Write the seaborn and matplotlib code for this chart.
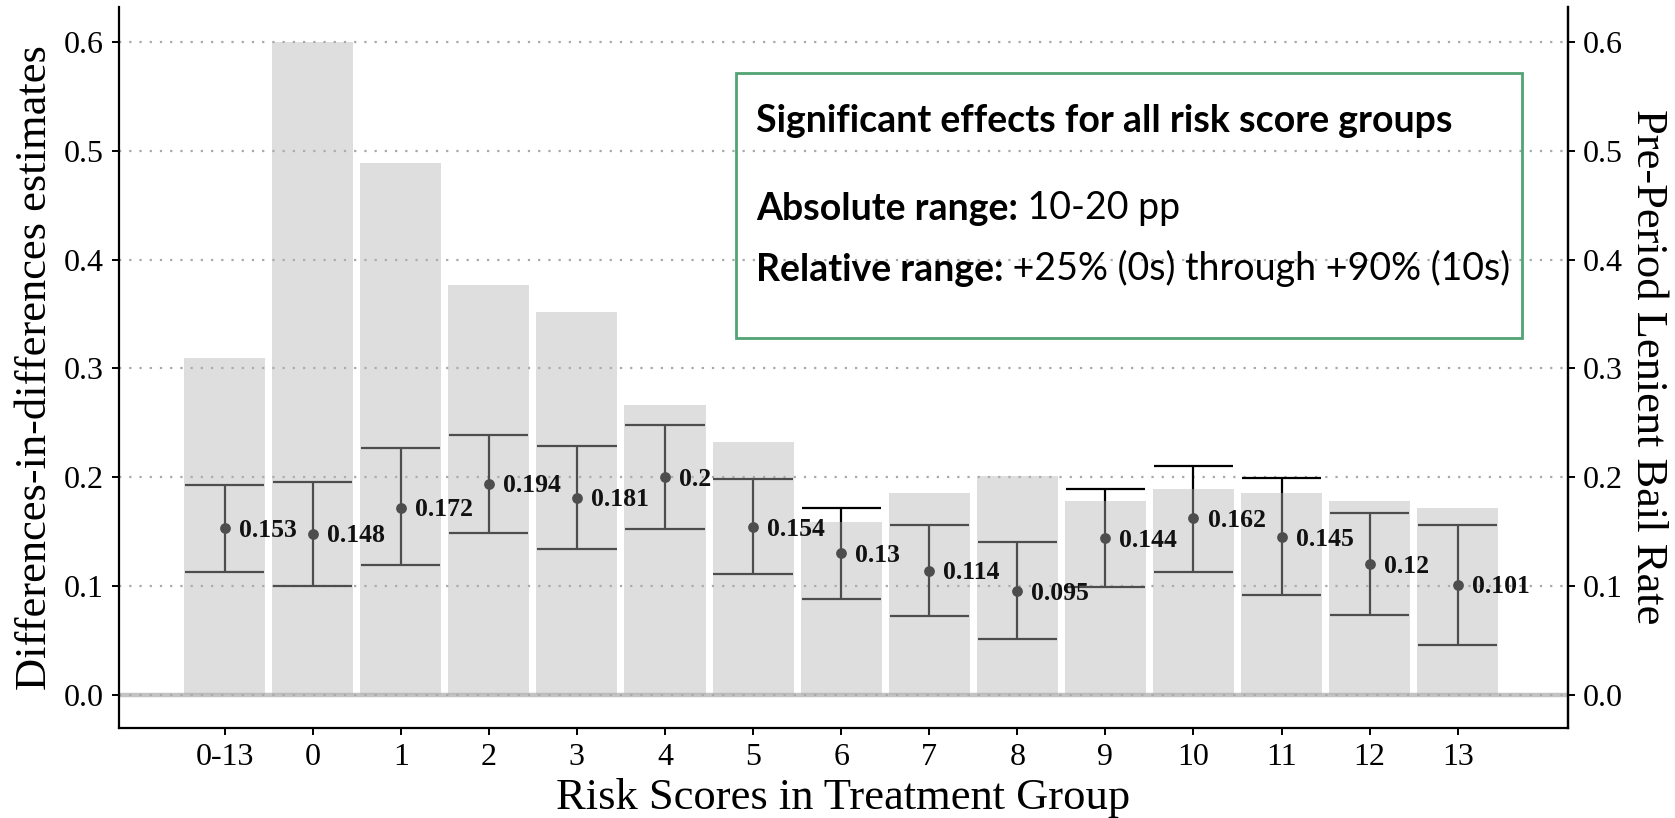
import numpy as np
import matplotlib
matplotlib.use("Agg")
import matplotlib.pyplot as plt
import seaborn as sns
from matplotlib.patches import Rectangle

groups = ["0-13", "0", "1", "2", "3", "4", "5", "6", "7", "8", "9", "10", "11", "12", "13"]
estimates = [0.153, 0.148, 0.172, 0.194, 0.181, 0.2, 0.154, 0.13, 0.114, 0.095, 0.144, 0.162, 0.145, 0.12, 0.101]
ci_low = [0.113, 0.100, 0.119, 0.149, 0.134, 0.152, 0.111, 0.088, 0.072, 0.051, 0.099, 0.113, 0.092, 0.073, 0.046]
ci_high = [0.193, 0.196, 0.227, 0.239, 0.229, 0.248, 0.198, 0.172, 0.156, 0.140, 0.189, 0.210, 0.199, 0.167, 0.156]
pre_rate = [0.310, 0.600, 0.489, 0.377, 0.352, 0.266, 0.232, 0.159, 0.185, 0.201, 0.178, 0.189, 0.185, 0.178, 0.172]
y_ticks = [0.0, 0.1, 0.2, 0.3, 0.4, 0.5, 0.6]

sns.set_theme(style="white")
SERIF = ["Liberation Serif", "DejaVu Serif"]
SANS = ["Lato", "DejaVu Sans"]
plt.rcParams["font.family"] = SERIF

fig = plt.figure(figsize=(16.75, 8.18), dpi=100)
ax = fig.add_axes([0.071, 0.1104, 0.865, 0.8816])

n = len(groups)
pos = np.arange(n)

# grid + zero line
ax.axhline(0, color="#C4C4C4", lw=3.2, zorder=0.3)
ax.set_axisbelow(True)
ax.yaxis.grid(True, linestyle=(0, (1, 3.6)), color="#A8A8A8", lw=1.6)
ax.xaxis.grid(False)

# error bars (under the translucent bars)
est = np.array(estimates)
lo = np.array(ci_low)
hi = np.array(ci_high)
ax.vlines(pos, lo, hi, color="black", lw=1.6, zorder=1)
ax.hlines(lo, pos - 0.45, pos + 0.45, color="black", lw=1.6, zorder=1)
ax.hlines(hi, pos - 0.45, pos + 0.45, color="black", lw=1.6, zorder=1)
ax.scatter(pos, est, s=60, color="black", zorder=1.1, linewidths=0)

# bars
sns.barplot(x=groups, y=pre_rate, color="#B3B3B3", alpha=0.43, width=0.92,
            saturation=1, linewidth=0, ax=ax, zorder=2)

# labels
for i, v in enumerate(estimates):
    ax.text(i + 0.16, v - 0.002, f"{v:g}", ha="left", va="center",
            fontsize=18.5, fontweight="bold", color="#111111", zorder=5, family=SERIF)

ax.set_xlim(-1.2, n - 1 + 1.25)
ax.set_ylim(-0.0305, 0.633)
ax.set_yticks(y_ticks)
ax.set_yticklabels([f"{t:.1f}" for t in y_ticks])
ax.set_xticks(pos)
ax.set_xticklabels(groups)

for s in ["left", "bottom", "right"]:
    ax.spines[s].set_visible(True)
    ax.spines[s].set_color("black")
    ax.spines[s].set_linewidth(1.6)
ax.spines["top"].set_visible(False)

ax.tick_params(axis="both", which="major", direction="out", length=5, width=1.4,
               color="black", labelsize=23, labelcolor="black", pad=6,
               left=True, bottom=True)
ax.set_xlabel("Risk Scores in Treatment Group", fontsize=32, labelpad=4, color="black")
ax.set_ylabel("Differences-in-differences estimates", fontsize=32, labelpad=6, color="black")

ax2 = ax.twinx()
ax2.set_ylim(ax.get_ylim())
ax2.set_yticks(y_ticks)
ax2.set_yticklabels([f"{t:.1f}" for t in y_ticks])
ax2.tick_params(axis="y", direction="out", length=5, width=1.4, color="black",
                labelsize=23, labelcolor="black", pad=6, right=True)
for s in ["left", "bottom", "top"]:
    ax2.spines[s].set_visible(False)
ax2.spines["right"].set_color("black")
ax2.spines["right"].set_linewidth(1.6)
ax2.grid(False)
ax2.set_ylabel("Pre-Period Lenient Bail Rate", fontsize=32, rotation=270,
               labelpad=32, color="black")

# annotation box
ax.add_patch(Rectangle((5.81, 0.3276), 8.92, 0.2444, fill=False,
                       edgecolor="#52A474", lw=2.0, zorder=6))
tx = 6.03
FS = 27
ax.text(tx, 0.528, "Significant effects for all risk score groups", ha="left", va="center",
        fontsize=FS, fontweight="bold", family=SANS, color="black", zorder=7)
t1 = ax.text(tx, 0.4465, "Absolute range:", ha="left", va="center",
             fontsize=FS, fontweight="bold", family=SANS, color="black", zorder=7)
ax.annotate(" 10-20 pp", xy=(1, 0), xycoords=t1, ha="left", va="bottom",
            fontsize=FS, family=SANS, color="black", zorder=7)
t2 = ax.text(tx, 0.391, "Relative range:", ha="left", va="center",
             fontsize=FS, fontweight="bold", family=SANS, color="black", zorder=7)
ax.annotate(" +25% (0s) through +90% (10s)", xy=(1, 0), xycoords=t2, ha="left", va="bottom",
            fontsize=FS, family=SANS, color="black", zorder=7)

fig.savefig("out.png", dpi=100)
